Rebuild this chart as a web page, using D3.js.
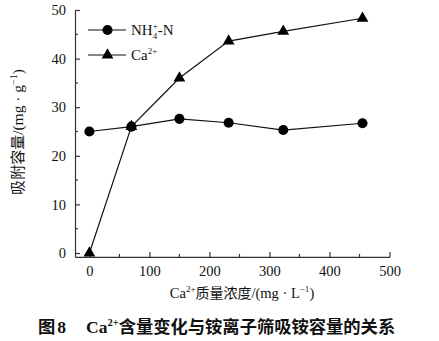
<!DOCTYPE html>
<html>
<head>
<meta charset="utf-8">
<script src="https://cdn.jsdelivr.net/npm/d3@7"></script>
<style>
  html, body { margin: 0; padding: 0; background: #fff; }
  svg { display: block; }
</style>
</head>
<body>
<svg id="chart" width="439" height="341"></svg>
<script>
// Ca2+ concentration (mg/L) and adsorption capacity (mg/g)
const concentration = [0, 70, 150, 232, 323, 455];
const nh4Capacity = [25.0, 26.0, 27.6, 26.8, 25.3, 26.7];
const caCapacity = [0, 26.0, 36.0, 43.6, 45.6, 48.3];
const xTicks = [0, 100, 200, 300, 400, 500];
const yTicks = [0, 10, 20, 30, 40, 50];

const svg = d3.select("#chart");
const serif = "'Liberation Serif', 'Times New Roman', serif";
const cjk = "'Noto Sans CJK SC', sans-serif";

const x = d3.scaleLinear().domain([-24, 500]).range([75, 389.5]);
const y = d3.scaleLinear().domain([-0.8, 50]).range([256.9, 10]);

const g = svg.append("g");

// axes
const xAxis = d3.axisBottom(x).tickValues(xTicks).tickSizeInner(-5).tickSizeOuter(0).tickPadding(9);
const yAxis = d3.axisLeft(y).tickValues(yTicks).tickSizeInner(-5).tickSizeOuter(0).tickPadding(9);

const gx = g.append("g").attr("transform", `translate(0,${y(-0.8)})`).call(xAxis);
const gy = g.append("g").attr("transform", `translate(${x(-24)},0)`).call(yAxis);

[gx, gy].forEach(a => {
  a.select(".domain").attr("stroke", "#333").attr("stroke-width", 1.2);
  a.selectAll(".tick line").attr("stroke", "#333").attr("stroke-width", 1.2);
  a.selectAll(".tick text").attr("font-family", serif).attr("font-size", 14.5).attr("fill", "#111");
});
gx.selectAll(".tick text").attr("dy", "0.71em");

// minor ticks
const xMinor = d3.range(50, 500, 100);
g.selectAll(".xminor").data(xMinor).join("line")
  .attr("x1", d => x(d)).attr("x2", d => x(d))
  .attr("y1", y(-0.8)).attr("y2", y(-0.8) - 3)
  .attr("stroke", "#333").attr("stroke-width", 1.2);
const yMinor = d3.range(5, 50, 10);
g.selectAll(".yminor").data(yMinor).join("line")
  .attr("x1", x(-24)).attr("x2", x(-24) + 3)
  .attr("y1", d => y(d)).attr("y2", d => y(d))
  .attr("stroke", "#333").attr("stroke-width", 1.2);

// series lines
const line = d3.line().x(d => x(d[0])).y(d => y(d[1]));
const nh4Pts = concentration.map((c, i) => [c, nh4Capacity[i]]);
const caPts = concentration.map((c, i) => [c, caCapacity[i]]);

g.append("path").datum(nh4Pts).attr("d", line)
  .attr("fill", "none").attr("stroke", "#111").attr("stroke-width", 1.2);
g.append("path").datum(caPts).attr("d", line)
  .attr("fill", "none").attr("stroke", "#111").attr("stroke-width", 1.2);

const circleSym = d3.symbol().type(d3.symbolCircle).size(80);
const triSym = d3.symbol().type(d3.symbolTriangle).size(60);

g.selectAll(".nh4").data(nh4Pts).join("path")
  .attr("d", circleSym)
  .attr("transform", d => `translate(${x(d[0])},${y(d[1])})`)
  .attr("fill", "#000");
g.selectAll(".ca").data(caPts).join("path")
  .attr("d", triSym)
  .attr("transform", d => `translate(${x(d[0])},${y(d[1])})`)
  .attr("fill", "#000");

// legend
const legend = g.append("g");
const lgItems = [{ sym: circleSym, y: 30 }, { sym: triSym, y: 55 }];
lgItems.forEach(it => {
  legend.append("line").attr("x1", 88).attr("x2", 126).attr("y1", it.y).attr("y2", it.y)
    .attr("stroke", "#111").attr("stroke-width", 1.2);
  legend.append("path").attr("d", it.sym).attr("transform", `translate(107.5,${it.y})`).attr("fill", "#000");
});
const t1 = legend.append("text").attr("x", 131).attr("y", 35)
  .attr("font-family", serif).attr("font-size", 15).attr("fill", "#111");
t1.append("tspan").text("NH");
t1.append("tspan").attr("font-size", 9).attr("dy", 3.5).text("4");
t1.append("tspan").attr("font-size", 9).attr("dx", -4.5).attr("dy", -10).text("+");
t1.append("tspan").attr("dy", 6.5).text("-N");

const t2 = legend.append("text").attr("x", 131).attr("y", 60)
  .attr("font-family", serif).attr("font-size", 15).attr("fill", "#111");
t2.append("tspan").text("Ca");
t2.append("tspan").attr("font-size", 9).attr("dy", -6).text("2+");

// y axis title
const yt = svg.append("text")
  .attr("transform", "translate(23,132) rotate(-90)")
  .attr("text-anchor", "middle")
  .attr("font-size", 15).attr("fill", "#111");
yt.append("tspan").attr("font-family", cjk).text("吸附容量");
yt.append("tspan").attr("font-family", serif).attr("font-size", 15.5).text("/(mg · g");
yt.append("tspan").attr("font-family", serif).attr("font-size", 10).attr("dy", -6).text("−1");
yt.append("tspan").attr("font-family", serif).attr("font-size", 15.5).attr("dy", 6).text(")");

// x axis title
const xt = svg.append("text")
  .attr("x", 242).attr("y", 298)
  .attr("text-anchor", "middle")
  .attr("font-size", 14).attr("fill", "#111");
xt.append("tspan").attr("font-family", serif).attr("font-size", 14.5).text("Ca");
xt.append("tspan").attr("font-family", serif).attr("font-size", 9).attr("dy", -6).text("2+");
xt.append("tspan").attr("font-family", cjk).attr("dy", 6).text("质量浓度");
xt.append("tspan").attr("font-family", serif).attr("font-size", 14.5).text("/(mg · L");
xt.append("tspan").attr("font-family", serif).attr("font-size", 9).attr("dy", -6).text("−1");
xt.append("tspan").attr("font-family", serif).attr("font-size", 14.5).attr("dy", 6).text(")");

// caption
const cap = svg.append("text")
  .attr("x", 38).attr("y", 333)
  .attr("font-size", 17.3).attr("font-weight", "bold").attr("fill", "#111");
cap.append("tspan").attr("font-family", cjk).text("图");
cap.append("tspan").attr("font-family", serif).attr("font-size", 17.5).attr("dx", 2).text("8");
cap.append("tspan").attr("font-family", serif).attr("font-size", 17.5).attr("dx", 20).text("Ca");
cap.append("tspan").attr("font-family", serif).attr("font-size", 10.5).attr("dy", -7).text("2+");
cap.append("tspan").attr("font-family", cjk).attr("dy", 7).text("含量变化与铵离子筛吸铵容量的关系");
</script>
</body>
</html>
